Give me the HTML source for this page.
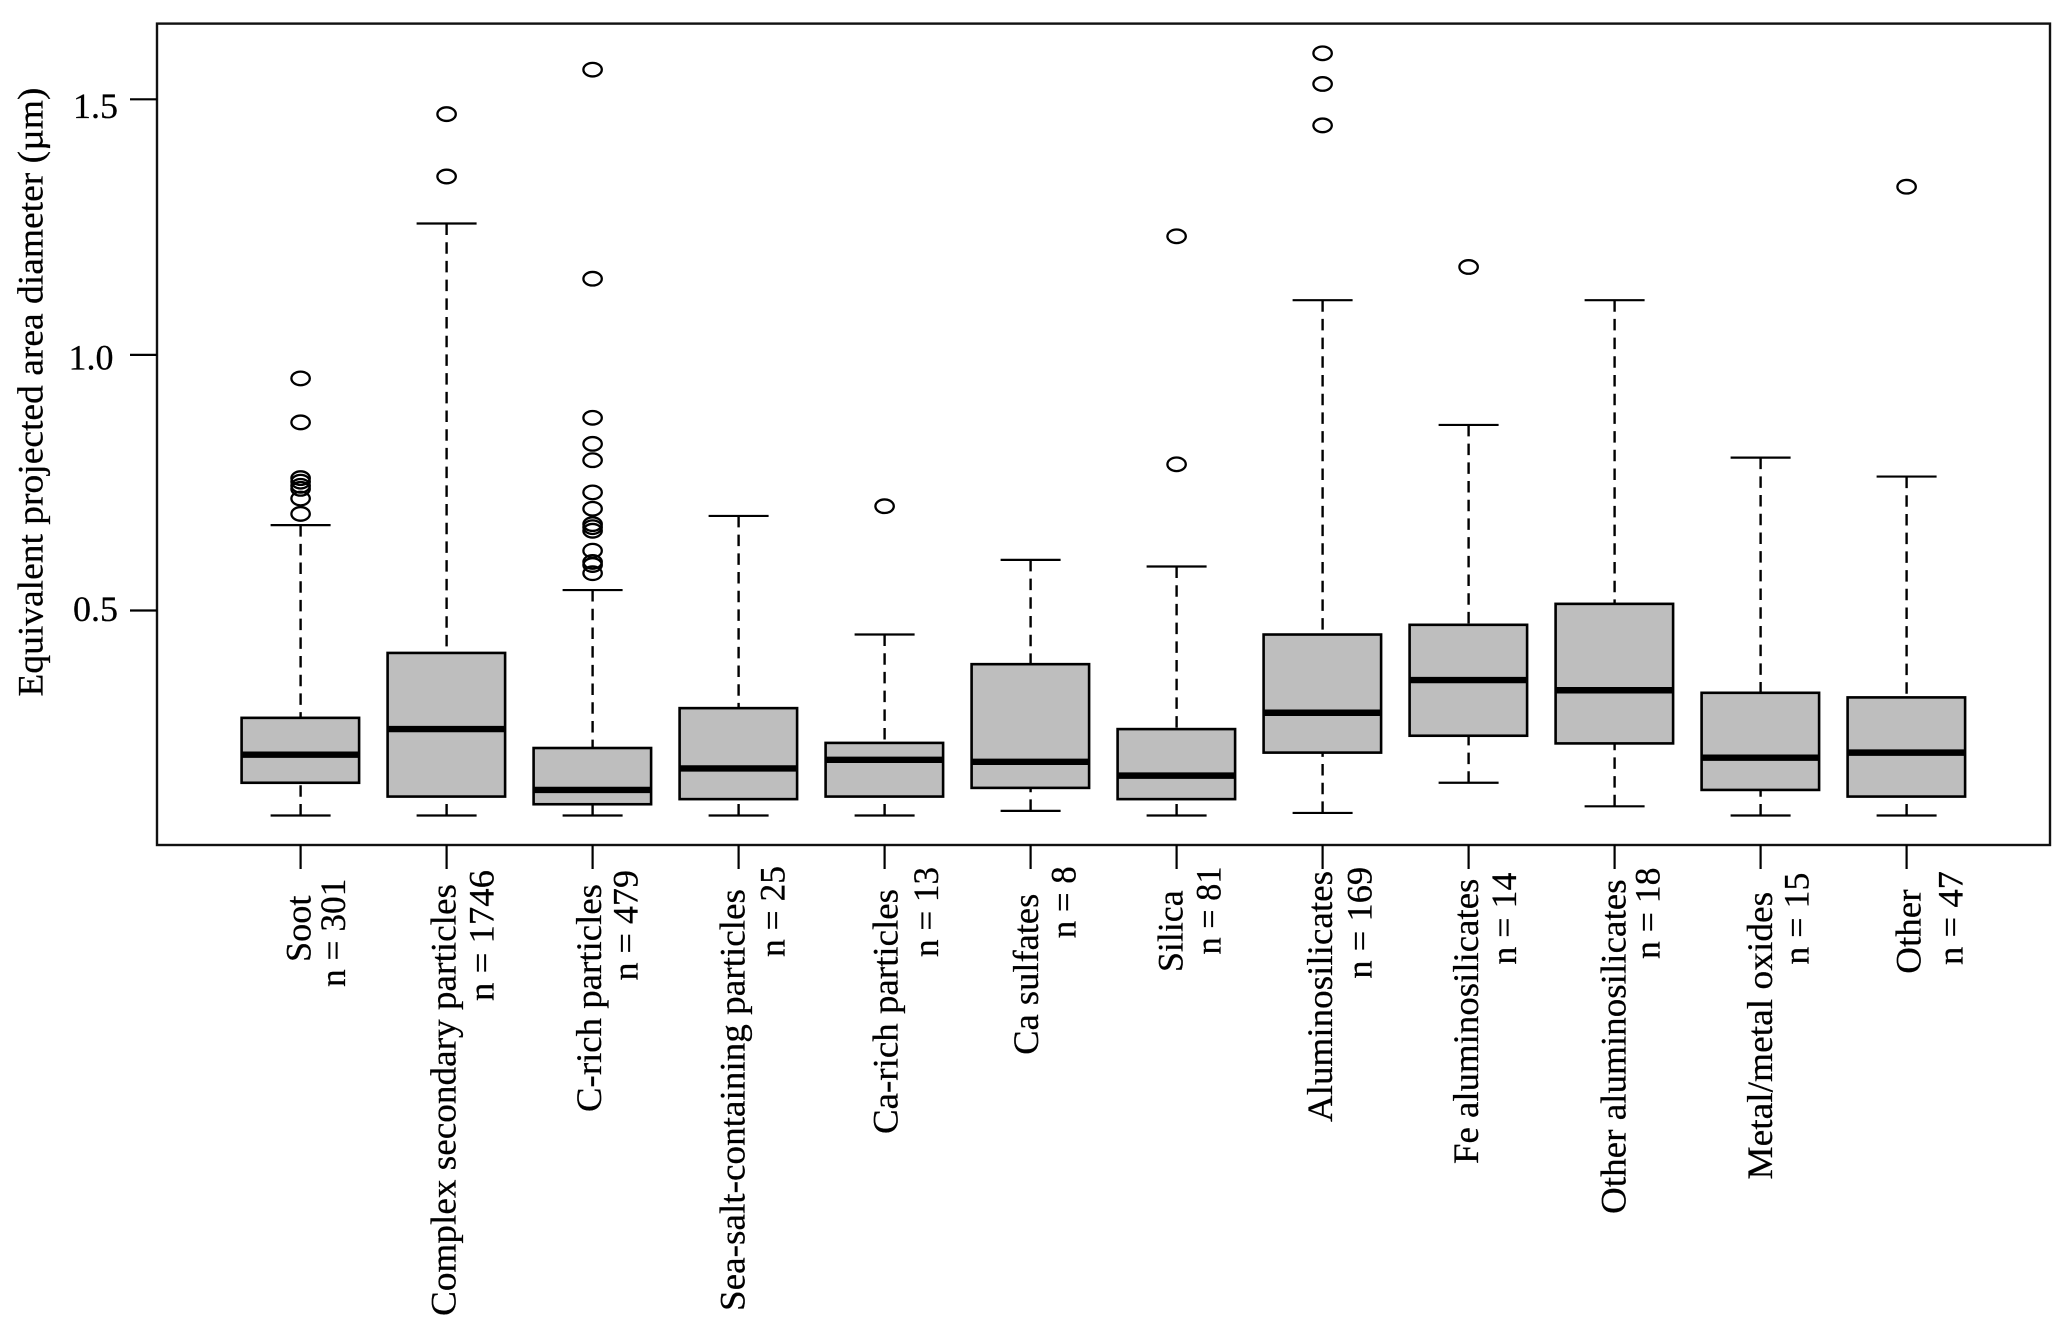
<!DOCTYPE html>
<html lang="en">
<head>
<meta charset="utf-8">
<title>Equivalent projected area diameter by particle type</title>
<style>
  html, body { margin: 0; padding: 0; background: #fff; width: 2067px; height: 1329px; overflow: hidden; }
  svg { display: block; }
  text { font-family: "Liberation Serif", "DejaVu Serif", serif; font-size: 36px; fill: #000; stroke: #000; stroke-width: 0.25px; }
</style>
</head>
<body>
<svg id="chart" xmlns="http://www.w3.org/2000/svg" width="2067" height="1329" viewBox="0 0 2067 1329">
  <rect x="0" y="0" width="2067" height="1329" fill="#fff"/>
  <g id="marks"></g>
  <rect x="157" y="23.6" width="1893" height="821.4" fill="none" stroke="#111" stroke-width="2.4"/>
  <g id="axes"></g>

  <text transform="translate(42.4,696.6) rotate(-90)" textLength="609" lengthAdjust="spacingAndGlyphs">Equivalent projected area diameter (µm)</text>

  <g transform="translate(-1.5,0)">
    <text transform="translate(312,962) rotate(-90)" textLength="66.5" lengthAdjust="spacingAndGlyphs">Soot</text>
    <text transform="translate(346.5,987) rotate(-90)" textLength="108.4" lengthAdjust="spacingAndGlyphs">n = 301</text>
    <text transform="translate(457,1316) rotate(-90)" textLength="432" lengthAdjust="spacingAndGlyphs">Complex secondary particles</text>
    <text transform="translate(495,1001) rotate(-90)" textLength="131" lengthAdjust="spacingAndGlyphs">n = 1746</text>
    <text transform="translate(602.7,1112) rotate(-90)" textLength="228" lengthAdjust="spacingAndGlyphs">C-rich particles</text>
    <text transform="translate(639,980.5) rotate(-90)" textLength="110.5" lengthAdjust="spacingAndGlyphs">n = 479</text>
    <text transform="translate(746,1311) rotate(-90)" textLength="422" lengthAdjust="spacingAndGlyphs">Sea-salt-containing particles</text>
    <text transform="translate(786,957) rotate(-90)" textLength="91" lengthAdjust="spacingAndGlyphs">n = 25</text>
    <text transform="translate(899,1134) rotate(-90)" textLength="245" lengthAdjust="spacingAndGlyphs">Ca-rich particles</text>
    <text transform="translate(939.5,957) rotate(-90)" textLength="90" lengthAdjust="spacingAndGlyphs">n = 13</text>
    <text transform="translate(1039.5,1054.7) rotate(-90)" textLength="161" lengthAdjust="spacingAndGlyphs">Ca sulfates</text>
    <text transform="translate(1077,938.3) rotate(-90)" textLength="72" lengthAdjust="spacingAndGlyphs">n = 8</text>
    <text transform="translate(1184,972) rotate(-90)" textLength="81.6" lengthAdjust="spacingAndGlyphs">Silica</text>
    <text transform="translate(1221.8,954.5) rotate(-90)" textLength="88" lengthAdjust="spacingAndGlyphs">n = 81</text>
    <text transform="translate(1333.3,1122) rotate(-90)" textLength="251" lengthAdjust="spacingAndGlyphs">Aluminosilicates</text>
    <text transform="translate(1372.8,978.8) rotate(-90)" textLength="112" lengthAdjust="spacingAndGlyphs">n = 169</text>
    <text transform="translate(1479.6,1164) rotate(-90)" textLength="285.4" lengthAdjust="spacingAndGlyphs">Fe aluminosilicates</text>
    <text transform="translate(1517.5,964.6) rotate(-90)" textLength="92" lengthAdjust="spacingAndGlyphs">n = 14</text>
    <text transform="translate(1627,1214) rotate(-90)" textLength="334.7" lengthAdjust="spacingAndGlyphs">Other aluminosilicates</text>
    <text transform="translate(1661,959) rotate(-90)" textLength="91.5" lengthAdjust="spacingAndGlyphs">n = 18</text>
    <text transform="translate(1773.5,1179.6) rotate(-90)" textLength="287.8" lengthAdjust="spacingAndGlyphs">Metal/metal oxides</text>
    <text transform="translate(1810,964.6) rotate(-90)" textLength="92" lengthAdjust="spacingAndGlyphs">n = 15</text>
    <text transform="translate(1921.8,973.8) rotate(-90)" textLength="84.4" lengthAdjust="spacingAndGlyphs">Other</text>
    <text transform="translate(1964,965) rotate(-90)" textLength="94" lengthAdjust="spacingAndGlyphs">n = 47</text>
  </g>
</svg>

<script>
const categories = ["Soot", "Complex secondary particles", "C-rich particles", "Sea-salt-containing particles", "Ca-rich particles", "Ca sulfates", "Silica", "Aluminosilicates", "Fe aluminosilicates", "Other aluminosilicates", "Metal/metal oxides", "Other"];
const sampleCounts = [301, 1746, 479, 25, 13, 8, 81, 169, 14, 18, 15, 47];
const whiskerLow = [0.099, 0.099, 0.099, 0.099, 0.099, 0.108, 0.099, 0.104, 0.163, 0.117, 0.099, 0.099];
const quartile1 = [0.163, 0.136, 0.121, 0.131, 0.136, 0.153, 0.131, 0.222, 0.255, 0.240, 0.149, 0.136];
const medians = [0.218, 0.268, 0.149, 0.191, 0.208, 0.204, 0.177, 0.300, 0.364, 0.344, 0.212, 0.222];
const quartile3 = [0.290, 0.417, 0.231, 0.309, 0.241, 0.395, 0.268, 0.453, 0.472, 0.513, 0.339, 0.330];
const whiskerHigh = [0.667, 1.257, 0.540, 0.685, 0.453, 0.599, 0.586, 1.107, 0.863, 1.107, 0.799, 0.762];
const outliers = [
  [0.954, 0.868, 0.759, 0.752, 0.744, 0.738, 0.719, 0.689],
  [1.471, 1.349],
  [1.558, 1.149, 0.877, 0.826, 0.794, 0.731, 0.699, 0.669, 0.663, 0.656, 0.617, 0.595, 0.589, 0.573],
  [],
  [0.704],
  [],
  [1.232, 0.786],
  [1.590, 1.530, 1.449],
  [1.172],
  [],
  [],
  [1.329]
];
const yTicks = [0.5, 1.0, 1.5];
const yTickLabels = ["0.5", "1.0", "1.5"];

const SVG_NS = "http://www.w3.org/2000/svg";
const marks = document.getElementById("marks");
const axes = document.getElementById("axes");

function xPos(i) { return 300.6 + i * 146.0; }
function yPos(v) { return 610.5 - (v - 0.5) * 511.2; }
function tickLabelY(v) { return 621 - (v - 0.5) * 503; }
function tickLabelX(v) { return v === 1 ? 113.5 : 118; }
function slug(s) { return s.toLowerCase().replace(/[^a-z0-9]+/g, "-"); }

function make(tag, parent, props) {
  const el = document.createElementNS(SVG_NS, tag);
  for (const k in props) el.setAttribute(k, props[k]);
  parent.appendChild(el);
  return el;
}

categories.forEach(function (cat, i) {
  const cx = xPos(i);
  const key = slug(cat);

  const loWhisk = make("line", marks, { x1: cx, x2: cx, y1: yPos(whiskerLow[i]), y2: yPos(quartile1[i]), stroke: "#000", "stroke-width": 2.4, "stroke-dasharray": "11.5 7.2" });
  
  

  const hiWhisk = make("line", marks, { x1: cx, x2: cx, y1: yPos(whiskerHigh[i]), y2: yPos(quartile3[i]), stroke: "#000", "stroke-width": 2.4, "stroke-dasharray": "11.5 7.2" });
  
  

  const loCap = make("line", marks, { x1: cx - 30, x2: cx + 30, y1: yPos(whiskerLow[i]), y2: yPos(whiskerLow[i]), stroke: "#000", "stroke-width": 2.2 });
  
  

  const hiCap = make("line", marks, { x1: cx - 30, x2: cx + 30, y1: yPos(whiskerHigh[i]), y2: yPos(whiskerHigh[i]), stroke: "#000", "stroke-width": 2.2 });
  
  

  const box = make("rect", marks, { x: cx - 59, y: yPos(quartile3[i]), width: 117.5, height: yPos(quartile1[i]) - yPos(quartile3[i]), fill: "#bebebe", stroke: "#000", "stroke-width": 2.6 });
  
  

  const med = make("line", marks, { x1: cx - 59, x2: cx + 58.5, y1: yPos(medians[i]), y2: yPos(medians[i]), stroke: "#000", "stroke-width": 6.4 });
  
  

  outliers[i].forEach(function (v) {
    const pt = make("ellipse", marks, { cx: cx, cy: yPos(v), rx: 9.2, ry: 6.8, fill: "none", stroke: "#000", "stroke-width": 2.3 });
    
    
  });

  const tick = make("line", axes, { x1: cx, x2: cx, y1: 845, y2: 869, stroke: "#000", "stroke-width": 2.2 });
  
  
});

yTicks.forEach(function (t, i) {
  const tick = make("line", axes, { x1: 130, x2: 157, y1: yPos(t), y2: yPos(t), stroke: "#000", "stroke-width": 2.2 });
  
  

  const label = make("text", axes, { x: tickLabelX(t), y: tickLabelY(t), "text-anchor": "end" });
  label.textContent = yTickLabels[i];
  
  
});
</script>
</body>
</html>
